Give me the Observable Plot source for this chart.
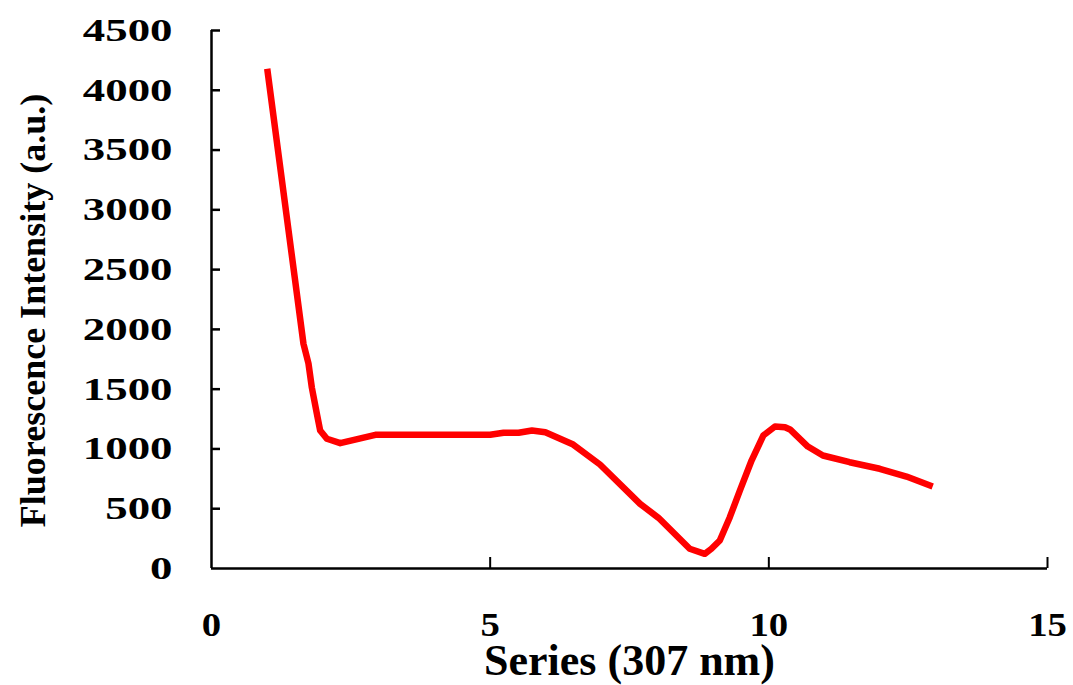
<!DOCTYPE html>
<html>
<head>
<meta charset="utf-8">
<script src="https://cdn.jsdelivr.net/npm/d3@7"></script>
<script src="https://cdn.jsdelivr.net/npm/@observablehq/plot@0.6"></script>
<style>
  html, body { margin: 0; padding: 0; background: #fff; }
  #chart svg { display: block; }
</style>
</head>
<body>
<div id="chart"></div>
<script>
// Series (307 nm) values
const seriesX = [1, 1.65, 1.74, 1.80, 1.89, 1.95, 2.07, 2.31, 2.94, 4, 5, 5.24, 5.51, 5.75, 5.99, 6.49, 6.97, 7.69, 8.02, 8.58, 8.85, 8.97, 9.12, 9.30, 9.48, 9.69, 9.90, 10.11, 10.29, 10.38, 10.70, 10.97, 11.45, 11.99, 12.47, 12.94];
const intensity = [4180, 1880, 1715, 1514, 1296, 1154, 1085, 1048, 1118, 1118, 1118, 1135, 1135, 1154, 1140, 1037, 870, 541, 424, 165, 123, 165, 234, 429, 652, 903, 1112, 1188, 1182, 1163, 1020, 945, 889, 834, 769, 686];

const xTickValues = [0, 5, 10, 15];
const yTickValues = [0, 500, 1000, 1500, 2000, 2500, 3000, 3500, 4000, 4500];
const xTitle = "Series (307 nm)";
const yTitle = "Fluorescence Intensity (a.u.)";

const data = seriesX.map((x, i) => ({x, y: intensity[i]}));

const W = 1073, H = 685;
const mL = 211, mR = 26, mT = 30, mB = 117;
const plotW = W - mL - mR, plotH = H - mT - mB;

const chart = Plot.plot({
  width: W,
  height: H,
  marginLeft: mL,
  marginRight: mR,
  marginTop: mT,
  marginBottom: mB,
  style: {background: "#fff", color: "#000", fontFamily: "'Liberation Serif', 'Times New Roman', serif", fontWeight: "bold"},
  x: {domain: [0, 15]},
  y: {domain: [0, 4500]},
  marks: [
    Plot.axisY(yTickValues, {tickSize: 0, tickPadding: 39, fontSize: 32.5, fontWeight: "bold", label: null, tickFormat: d => String(d)}),
    Plot.axisX(xTickValues, {tickSize: 0, tickPadding: 43, fontSize: 34, fontWeight: "bold", label: null, tickFormat: d => String(d)}),
    Plot.tickY(yTickValues.filter(d => d > 0), {y: d => d, stroke: "#000", strokeWidth: 2.5, insetRight: plotW - 9}),
    Plot.tickX(xTickValues.filter(d => d > 0), {x: d => d, stroke: "#000", strokeWidth: 2, insetTop: plotH - 11}),
    Plot.ruleX([0], {stroke: "#000", strokeWidth: 2.5}),
    Plot.ruleY([0], {stroke: "#000", strokeWidth: 2.5}),
    Plot.line(data, {x: "x", y: "y", stroke: "#ff0000", strokeWidth: 6.5, strokeLinejoin: "round", strokeLinecap: "butt"}),
    Plot.text([xTitle], {text: d => d, frameAnchor: "bottom", textAnchor: "middle", dy: 106, fontSize: 44, fontWeight: "bold", ariaLabel: "x-title"}),
    Plot.text([yTitle], {text: d => d, frameAnchor: "left", textAnchor: "middle", rotate: -90, dx: -178, dy: 11, fontSize: 36, fontWeight: "bold", ariaLabel: "y-title"})
  ]
});

document.getElementById("chart").appendChild(chart);

// Horizontal stretch of the typeface, as in the reference
function stretch(selector, sx, sy) {
  chart.querySelectorAll(selector).forEach(t => {
    const tr = t.getAttribute("transform");
    if (tr) {
      t.setAttribute("transform", tr + ` scale(${sx},${sy})`);
    } else {
      const x = parseFloat(t.getAttribute("x")) || 0;
      const y = parseFloat(t.getAttribute("y")) || 0;
      t.setAttribute("transform", `translate(${x},${y}) scale(${sx},${sy}) translate(${-x},${-y})`);
    }
  });
}
stretch('g[aria-label="y-axis tick label"] text', 1.38, 1);
stretch('g[aria-label="x-axis tick label"] text', 1.14, 1);
stretch('g[aria-label="x-title"] text', 1.07, 1);
stretch('g[aria-label="y-title"] text', 1, 1.5);
</script>
</body>
</html>
